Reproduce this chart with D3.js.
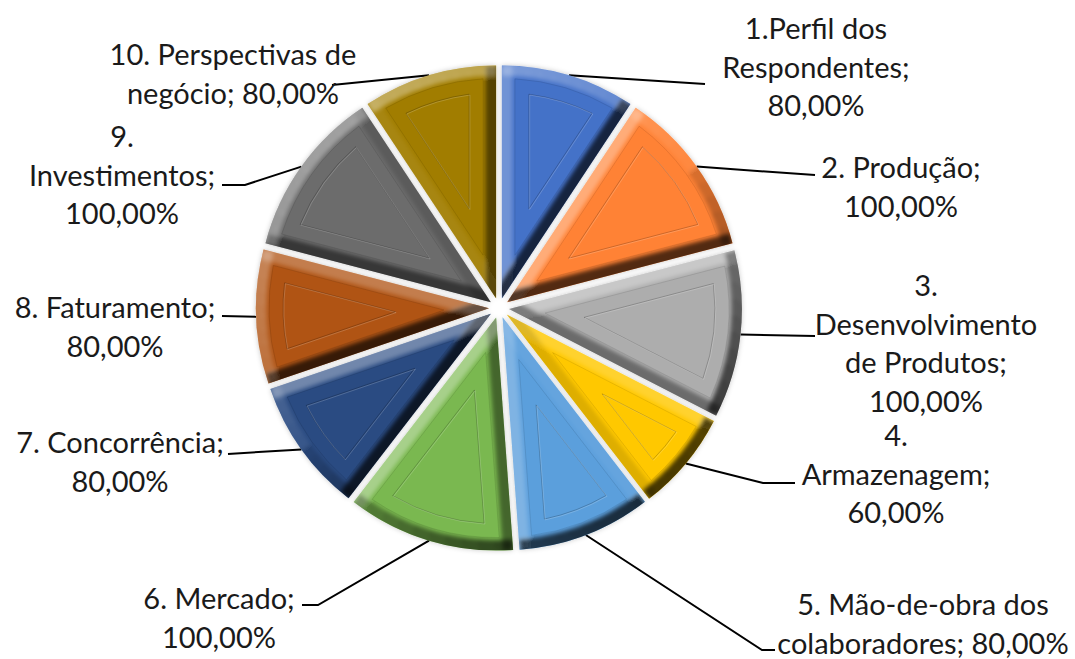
<!DOCTYPE html>
<html>
<head>
<meta charset="utf-8">
<script src="https://cdn.jsdelivr.net/npm/d3@7"></script>
<style>
html, body { margin: 0; padding: 0; background: #fff; }
svg { display: block; }
text { font-family: Lato, "Open Sans", sans-serif; font-size: 29px; fill: #1a1a1a; }
</style>
</head>
<body>
<svg width="1075" height="659"></svg>
<script>
// chart data
const categories = ["1.Perfil dos\nRespondentes", "2. Produção", "3.\nDesenvolvimento\nde Produtos", "4.\nArmazenagem",
	"5. Mão-de-obra dos\ncolaboradores", "6. Mercado", "7. Concorrência", "8. Faturamento", "9.\nInvestimentos",
	"10. Perspectivas de\nnegócio"];
const values = [80, 100, 100, 60, 80, 100, 80, 80, 100, 80];
const colors = ["#4472c8", "#ff8235", "#adadad", "#ffc800", "#5b9fdc", "#7ab850", "#2a4b82", "#b05414", "#6c6c6c", "#a17d00"];

// label layout: text centre, first baseline, separator before the percent, leader bends
const labelPos = [
	{x: 816, y: 39, sep: "\n", bend: [[705, 84]]},
	{x: 901, y: 178, sep: "\n", bend: [[815, 175]]},
	{x: 926, y: 296, sep: "\n", bend: [[815, 336]]},
	{x: 896, y: 446, sep: "\n", bend: [[763, 483], [795, 483]]},
	{x: 923, y: 615, sep: " ", bend: [[762, 650], [775, 650]]},
	{x: 219, y: 609, sep: "\n", bend: [[318, 605], [302, 605]]},
	{x: 120, y: 453, sep: "\n", bend: [[228, 454]]},
	{x: 115, y: 318, sep: "\n", bend: [[222, 316]]},
	{x: 122, y: 147, sep: "\n", bend: [[245, 185], [222, 185]]},
	{x: 233, y: 65, sep: " ", bend: [[332, 85]]}
];

const svg = d3.select("svg");
const cx = 499, cy = 308, radius = 233, explode = 10;
const bevel = 13, innerInset = 27;
const lineGap = 38.5;
const light = [-0.6, -0.8];

const fmt = v => d3.format(".2f")(v).replace(".", ",") + "%";
const arcs = d3.pie().sort(null).value(d => d)(values);

const defs = svg.append("defs");
defs.append("filter").attr("id", "blur").attr("x", "-20%").attr("y", "-20%").attr("width", "140%").attr("height", "140%")
	.append("feGaussianBlur").attr("stdDeviation", 2.2);
const shadow = defs.append("filter").attr("id", "shadow").attr("x", "-20%").attr("y", "-20%").attr("width", "140%").attr("height", "140%");
shadow.append("feDropShadow").attr("dx", 0).attr("dy", 0).attr("stdDeviation", 2.5)
	.attr("flood-color", "#000").attr("flood-opacity", 0.22);

// angle 0 = up, clockwise, same as d3.arc
const polar = (a, r) => [r * Math.sin(a), -r * Math.cos(a)];

// wedge moved inwards by d from all three sides
function insetWedge(a0, a1, d) {
	const half = (a1 - a0) / 2, mid = a0 + half;
	const apex = polar(mid, d / Math.sin(half));
	const r = radius - d;
	const da = Math.asin(d / r);
	return {apex, p0: polar(a0 + da, r), p1: polar(a1 - da, r), r};
}
function wedgePath(w) {
	return `M${w.apex}L${w.p0}A${w.r},${w.r} 0 0 1 ${w.p1}Z`;
}
// shade for an outward normal, light from upper left
function shade(nx, ny) {
	const s = nx * light[0] + ny * light[1];
	return s > 0 ? {c: "#fff", o: 0.05 + s * 0.3} : {c: "#000", o: 0.12 - s * 0.6};
}

// leaders
const leaders = svg.append("g");
arcs.forEach((d, i) => {
	const mid = (d.startAngle + d.endAngle) / 2;
	const p = polar(mid, radius + 10);
	const pts = [[cx + p[0], cy + p[1]]].concat(labelPos[i].bend);
	leaders.append("path").attr("d", d3.line()(pts))
		.attr("fill", "none").attr("stroke", "#000").attr("stroke-width", 2);
});

// slices
arcs.forEach((d, i) => {
	const a0 = d.startAngle, a1 = d.endAngle, mid = (a0 + a1) / 2;
	const off = polar(mid, explode);
	const g = svg.append("g").attr("transform", `translate(${cx + off[0]},${cy + off[1]})`);
	const outer = wedgePath({apex: [0, 0], p0: polar(a0, radius), p1: polar(a1, radius), r: radius});

	defs.append("clipPath").attr("id", "clip" + i).append("path").attr("d", outer);
	g.append("path").attr("d", outer).attr("fill", colors[i]).attr("filter", "url(#shadow)");

	// soft bevel along the edges, blurred and clipped to the slice
	const bands = g.append("g").attr("clip-path", `url(#clip${i})`).append("g").attr("filter", "url(#blur)");
	const band = (pts, nx, ny) => {
		const s = shade(nx, ny);
		bands.append("path").attr("d", d3.line()(pts)).attr("fill", "none")
			.attr("stroke", s.c).attr("stroke-opacity", s.o).attr("stroke-width", bevel * 1.6);
	};
	band([[0, 0], polar(a0, radius)], -Math.cos(a0), -Math.sin(a0));
	band([[0, 0], polar(a1, radius)], Math.cos(a1), Math.sin(a1));
	const steps = 10;
	d3.range(steps).forEach(k => {
		const t0 = a0 + (a1 - a0) * k / steps, t1 = a0 + (a1 - a0) * (k + 1) / steps;
		const tm = (t0 + t1) / 2;
		band([polar(t0, radius), polar(t1, radius)], Math.sin(tm), -Math.cos(tm));
	});

	// flat middle plus the two thin embossed outlines
	const ring = insetWedge(a0, a1, bevel);
	const inner = insetWedge(a0, a1, innerInset);
	g.append("path").attr("d", wedgePath(ring)).attr("fill", colors[i])
		.attr("stroke", "#000").attr("stroke-opacity", 0.12).attr("stroke-width", 0.8);
	g.append("path").attr("d", wedgePath(inner)).attr("fill", colors[i])
		.attr("stroke", "#000").attr("stroke-opacity", 0.2).attr("stroke-width", 1);
	g.append("path").attr("d", wedgePath(inner)).attr("fill", "none").attr("transform", "translate(0.8,0.8)")
		.attr("stroke", "#fff").attr("stroke-opacity", 0.18).attr("stroke-width", 1);
});

// labels
categories.forEach((c, i) => {
	const pos = labelPos[i];
	const lines = (c + ";" + pos.sep + fmt(values[i])).split("\n");
	const t = svg.append("text").attr("text-anchor", "middle");
	lines.forEach((s, k) => {
		t.append("tspan").attr("x", pos.x).attr("y", pos.y + k * lineGap).text(s);
	});
});
</script>
</body>
</html>
